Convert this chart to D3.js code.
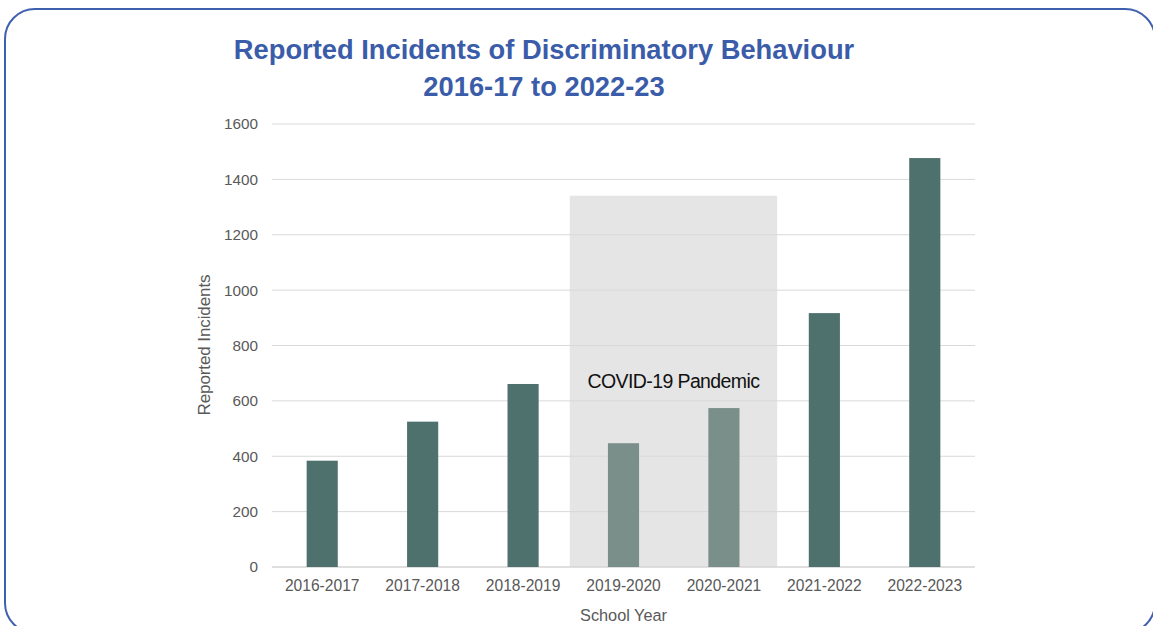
<!DOCTYPE html>
<html>
<head>
<meta charset="utf-8">
<script src="https://cdn.jsdelivr.net/npm/d3@7"></script>
<style>
  html, body { margin: 0; padding: 0; background: #fff; }
  svg { display: block; font-family: Arial, "Liberation Sans", sans-serif; }
</style>
</head>
<body>
<svg id="chart" width="1153" height="626"></svg>
<script>
// School years and reported incident counts
const years = ["2016-2017", "2017-2018", "2018-2019", "2019-2020", "2020-2021", "2021-2022", "2022-2023"];
const incidents = [384, 525, 661, 447, 574, 917, 1477];
// Years affected by the pandemic (drawn in a lighter tone over a grey band)
const pandemicYears = ["2019-2020", "2020-2021"];
const pandemicBandTop = 1341;
const yTicks = [0, 200, 400, 600, 800, 1000, 1200, 1400, 1600];

const titleLines = ["Reported Incidents of Discriminatory Behaviour", "2016-17 to 2022-23"];

const svg = d3.select("#chart");

// Rounded frame
svg.append("rect")
  .attr("x", 5).attr("y", 9)
  .attr("width", 1150).attr("height", 624)
  .attr("rx", 30).attr("ry", 30)
  .attr("fill", "none")
  .attr("stroke", "#3f60ae")
  .attr("stroke-width", 2);

const plot = { left: 272, right: 975, top: 124, bottom: 567 };

const x = d3.scaleBand()
  .domain(years)
  .range([plot.left, plot.right])
  .paddingInner(0.69)
  .paddingOuter(0.345);

const y = d3.scaleLinear()
  .domain([0, 1600])
  .range([plot.bottom, plot.top]);

// Grey band behind the pandemic years
const step = x.step();
const bx0 = x(pandemicYears[0]) + x.bandwidth() / 2 - step * 0.535;
const bx1 = x(pandemicYears[pandemicYears.length - 1]) + x.bandwidth() / 2 + step * 0.53;
svg.append("rect")
  .attr("x", bx0)
  .attr("y", y(pandemicBandTop))
  .attr("width", bx1 - bx0)
  .attr("height", y(0) - y(pandemicBandTop))
  .attr("fill", "#e5e5e5");

// Horizontal gridlines
svg.append("g")
  .selectAll("line")
  .data(yTicks)
  .join("line")
  .attr("x1", plot.left).attr("x2", plot.right)
  .attr("y1", d => y(d)).attr("y2", d => y(d))
  .attr("stroke", d => d === 0 ? "#d4d4d4" : "#d9d9d9")
  .attr("stroke-width", d => d === 0 ? 1.5 : 1);

// Y axis tick labels
const yAxis = d3.axisLeft(y).tickValues(yTicks).tickFormat(d3.format("d")).tickSize(0).tickPadding(14);
svg.append("g")
  .attr("transform", `translate(${plot.left},0)`)
  .call(yAxis)
  .call(g => g.select(".domain").remove())
  .call(g => g.selectAll("text")
    .attr("font-size", 15.3)
    .attr("font-family", "Arial, 'Liberation Sans', sans-serif")
    .attr("fill", "#595959"));

// X axis labels
const xAxis = d3.axisBottom(x).tickSize(0).tickPadding(13);
svg.append("g")
  .attr("transform", `translate(0,${plot.bottom})`)
  .call(xAxis)
  .call(g => g.select(".domain").remove())
  .call(g => g.selectAll("text")
    .attr("font-size", 15.6)
    .attr("font-family", "Arial, 'Liberation Sans', sans-serif")
    .attr("fill", "#595959"));

// Bars
svg.append("g")
  .selectAll("rect")
  .data(years.map((yr, i) => ({ yr, v: incidents[i] })))
  .join("rect")
  .attr("x", d => x(d.yr))
  .attr("y", d => y(d.v))
  .attr("width", x.bandwidth())
  .attr("height", d => y(0) - y(d.v))
  .attr("fill", d => pandemicYears.includes(d.yr) ? "#7a8e8a" : "#4e716d");

// Pandemic label
svg.append("text")
  .attr("x", (bx0 + bx1) / 2)
  .attr("y", 388)
  .attr("text-anchor", "middle")
  .attr("font-size", 19.5)
  .attr("letter-spacing", -0.6)
  .attr("fill", "#111")
  .text("COVID-19 Pandemic");

// Axis titles
svg.append("text")
  .attr("x", (plot.left + plot.right) / 2)
  .attr("y", 621)
  .attr("text-anchor", "middle")
  .attr("font-size", 16.3)
  .attr("fill", "#595959")
  .text("School Year");

svg.append("text")
  .attr("transform", `translate(210,345) rotate(-90)`)
  .attr("text-anchor", "middle")
  .attr("font-size", 17)
  .attr("letter-spacing", -0.1)
  .attr("fill", "#595959")
  .text("Reported Incidents");

// Title
svg.append("g")
  .selectAll("text")
  .data(titleLines)
  .join("text")
  .attr("x", 544)
  .attr("y", (d, i) => 59 + i * 37)
  .attr("text-anchor", "middle")
  .attr("font-size", 27.3)
  .attr("font-weight", "bold")
  .attr("fill", "#3a5ca9")
  .text(d => d);
</script>
</body>
</html>
